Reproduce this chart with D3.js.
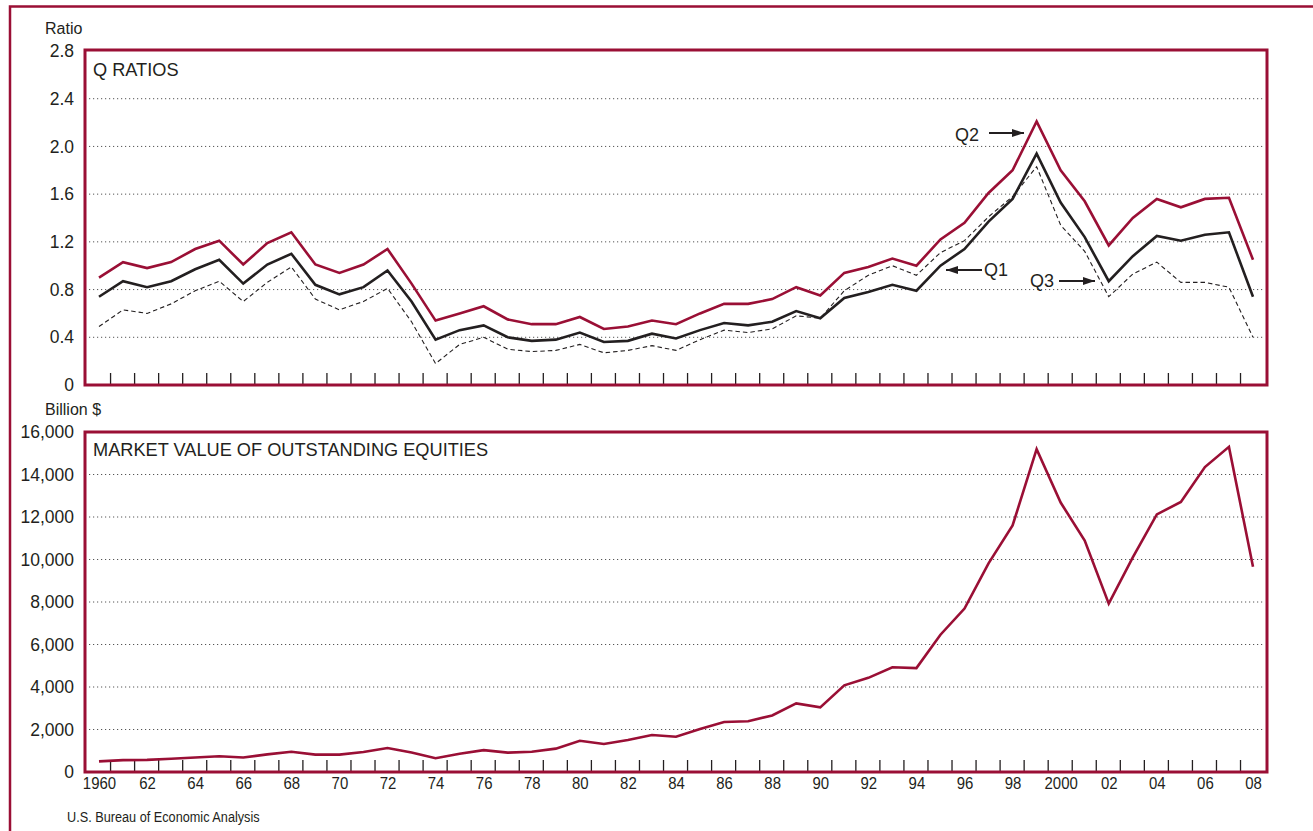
<!DOCTYPE html>
<html>
<head>
<meta charset="utf-8">
<script src="https://cdn.jsdelivr.net/npm/d3@7"></script>
<style>
  html, body { margin: 0; padding: 0; background: #fff; }
  svg { display: block; }
  text { font-family: "Liberation Sans", Arial, sans-serif; fill: #231f20; }
</style>
</head>
<body>
<svg id="chart" width="1313" height="831"></svg>
<script>
const years = d3.range(1960, 2009);
const q2 = [0.90,1.03,0.98,1.03,1.14,1.21,1.01,1.19,1.28,1.01,0.94,1.01,1.14,0.85,0.54,0.60,0.66,0.55,0.51,0.51,0.57,0.47,0.49,0.54,0.51,0.60,0.68,0.68,0.72,0.82,0.75,0.94,0.99,1.06,1.00,1.22,1.36,1.61,1.80,2.21,1.80,1.54,1.17,1.40,1.56,1.49,1.56,1.57,1.05];
const q1 = [0.74,0.87,0.82,0.87,0.97,1.05,0.85,1.01,1.10,0.84,0.76,0.82,0.96,0.70,0.38,0.46,0.50,0.40,0.37,0.38,0.44,0.36,0.37,0.43,0.39,0.46,0.52,0.50,0.53,0.62,0.56,0.73,0.78,0.84,0.79,1.00,1.14,1.37,1.56,1.94,1.53,1.24,0.87,1.08,1.25,1.21,1.26,1.28,0.74];
const q3 = [0.49,0.63,0.60,0.68,0.79,0.87,0.70,0.86,0.99,0.72,0.63,0.70,0.81,0.53,0.18,0.34,0.40,0.30,0.28,0.29,0.34,0.27,0.29,0.33,0.29,0.38,0.46,0.44,0.47,0.58,0.56,0.79,0.92,1.00,0.92,1.11,1.21,1.41,1.58,1.83,1.34,1.12,0.74,0.93,1.03,0.86,0.86,0.82,0.40];
const equities = [500,560,570,620,680,740,680,830,950,820,820,940,1130,920,650,860,1030,910,950,1100,1470,1320,1510,1740,1660,2020,2350,2390,2660,3230,3040,4080,4430,4930,4890,6460,7690,9820,11600,15190,12680,10890,7920,10100,12120,12710,14350,15300,9660];
const ratioTicks = [0, 0.4, 0.8, 1.2, 1.6, 2.0, 2.4, 2.8];
const ratioTickLabels = ["0","0.4","0.8","1.2","1.6","2.0","2.4","2.8"];
const valueTicks = [0,2000,4000,6000,8000,10000,12000,14000,16000];
const valueTickLabels = ["0","2,000","4,000","6,000","8,000","10,000","12,000","14,000","16,000"];
const yearLabelYears = d3.range(1960, 2009, 2);
const yearLabels = ["1960","62","64","66","68","70","72","74","76","78","80","82","84","86","88","90","92","94","96","98","2000","02","04","06","08"];

const RED = "#9a0f35";
const INK = "#231f20";
const svg = d3.select("#chart");

// outer border
svg.append("path").attr("d", "M10,831 L10,6.5 L1313,6.5").attr("fill", "none").attr("stroke", RED).attr("stroke-width", 2.5);

const x = d3.scaleLinear().domain([1960, 2008]).range([99, 1253]);
const frameX0 = 85, frameX1 = 1267;

function panel(opts) {
  const { y, ticks, tickLabels, top, bottom, unit, unitY, title, titleY } = opts;
  const g = svg.append("g");
  // gridlines
  g.append("g").selectAll("line").data(ticks.filter(t => t > ticks[0] && t < ticks[ticks.length - 1]))
    .join("line")
    .attr("x1", frameX0 + 4).attr("x2", frameX1 - 4)
    .attr("y1", d => y(d)).attr("y2", d => y(d))
    .attr("stroke", "#555").attr("stroke-width", 1).attr("stroke-dasharray", "1.2,2.8");
  // y axis labels
  const yAxis = d3.axisLeft(y).tickValues(ticks).tickFormat((d, i) => tickLabels[i]).tickSize(0).tickPadding(0);
  const ya = g.append("g").attr("transform", `translate(74,0)`).call(yAxis);
  ya.select(".domain").remove();
  ya.selectAll("text").attr("font-size", 17.5).attr("fill", INK).attr("font-family", "Liberation Sans, Arial, sans-serif");
  // x ticks at year boundaries
  const xAxis = d3.axisTop(x).tickValues(d3.range(1960.46, 2008, 1)).tickSize(12).tickFormat("");
  const xa = g.append("g").attr("transform", `translate(0,${bottom})`).call(xAxis);
  xa.select(".domain").remove();
  xa.selectAll("line").attr("stroke", INK).attr("stroke-width", 1.3);
  // frame
  g.append("rect").attr("x", frameX0).attr("y", top).attr("width", frameX1 - frameX0).attr("height", bottom - top)
    .attr("fill", "none").attr("stroke", RED).attr("stroke-width", 3);
  // unit label
  g.append("text").attr("x", 45).attr("y", unitY).attr("font-size", 16).text(unit);
  g.append("text").attr("x", 93).attr("y", titleY).attr("font-size", 18.2).text(title);
  return g;
}

// TOP PANEL
const yTop = d3.scaleLinear().domain([0, 2.8]).range([385, 51]);
const gTop = panel({ y: yTop, ticks: ratioTicks, tickLabels: ratioTickLabels, top: 50, bottom: 385, unit: "Ratio", unitY: 34, title: "Q RATIOS", titleY: 76 });
const lineTop = (arr) => d3.line().x((d, i) => x(years[i])).y(d => yTop(d))(arr);
gTop.append("path").attr("d", lineTop(q3)).attr("fill", "none").attr("stroke", INK).attr("stroke-width", 1.1).attr("stroke-dasharray", "4.5,3");
gTop.append("path").attr("d", lineTop(q1)).attr("fill", "none").attr("stroke", INK).attr("stroke-width", 2.6);
gTop.append("path").attr("d", lineTop(q2)).attr("fill", "none").attr("stroke", RED).attr("stroke-width", 2.6);

// annotations
const defs = svg.append("defs");
defs.append("marker").attr("id", "ah").attr("viewBox", "0 0 12 8").attr("refX", 12).attr("refY", 4)
  .attr("markerWidth", 12).attr("markerHeight", 8).attr("markerUnits", "userSpaceOnUse").attr("orient", "auto")
  .append("path").attr("d", "M0,0 L12,4 L0,8 Z").attr("fill", INK);
function arrow(x1, y1, x2, y2) {
  svg.append("line").attr("x1", x1).attr("y1", y1).attr("x2", x2).attr("y2", y2)
    .attr("stroke", INK).attr("stroke-width", 2).attr("marker-end", "url(#ah)");
}
svg.append("text").attr("x", 955).attr("y", 141).attr("font-size", 18).text("Q2");
arrow(989, 133, 1024, 133);
svg.append("text").attr("x", 984).attr("y", 276).attr("font-size", 18).text("Q1");
arrow(982, 270, 946, 270);
svg.append("text").attr("x", 1030).attr("y", 287).attr("font-size", 18).text("Q3");
arrow(1059, 281, 1095, 281);

// BOTTOM PANEL
const yBot = d3.scaleLinear().domain([0, 16000]).range([772, 432]);
const gBot = panel({ y: yBot, ticks: valueTicks, tickLabels: valueTickLabels, top: 432, bottom: 772, unit: "Billion $", unitY: 415, title: "MARKET VALUE OF OUTSTANDING EQUITIES", titleY: 456 });
gBot.append("path").attr("d", d3.line().x((d, i) => x(years[i])).y(d => yBot(d))(equities))
  .attr("fill", "none").attr("stroke", RED).attr("stroke-width", 2.6);

// x labels (condensed)
const xl = svg.append("g").attr("transform", "translate(0,789)")
  .call(d3.axisBottom(x).tickValues(yearLabelYears).tickFormat((d, i) => yearLabels[i]).tickSize(0).tickPadding(0));
xl.select(".domain").remove();
xl.selectAll(".tick").each(function () {
  const t = d3.select(this).select("text");
  t.attr("y", 0).attr("dy", 0).attr("font-size", 17).attr("fill", INK)
   .attr("font-family", "Liberation Sans, Arial, sans-serif")
   .attr("transform", "scale(0.88,1)");
});

// source
svg.append("text").attr("transform", "translate(67,822) scale(0.82,1)").attr("font-size", 15.5).text("U.S. Bureau of Economic Analysis");
</script>
</body>
</html>
